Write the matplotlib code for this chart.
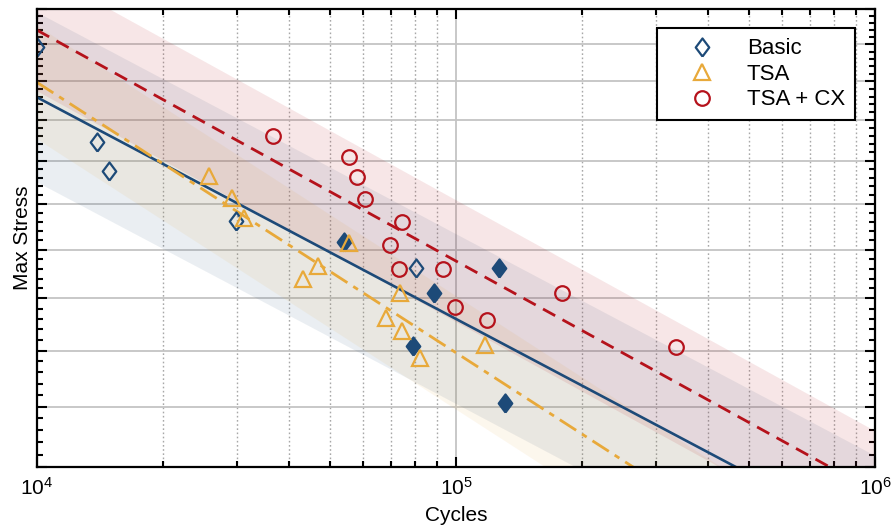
import numpy as np
import matplotlib
matplotlib.use("Agg")
import matplotlib.pyplot as plt
from matplotlib.ticker import LogLocator, FixedLocator, NullFormatter, MultipleLocator

plt.rcParams['font.family'] = ['Liberation Sans', 'DejaVu Sans']
plt.rcParams['mathtext.default'] = 'regular'

# Basic specimens (open and filled diamonds)
basic_open_cycles = [10000, 13900, 14850, 29850, 80300]
basic_open_stress = [209.2, 184.5, 177.5, 166.2, 156.2]
basic_fill_cycles = [54000, 88600, 126600, 79000, 130900]
basic_fill_stress = [161.6, 151.1, 156.2, 140.8, 130.6]

# TSA specimens
tsa_cycles = [25730, 29200, 31190, 55540, 46840, 43130, 73500, 68070, 74310, 82070, 117300]
tsa_stress = [176.4, 171.3, 166.8, 161.4, 156.6, 153.9, 151.1, 146.2, 143.7, 138.6, 141.0]

# TSA + CX specimens
cx_cycles = [36580, 55540, 58030, 60640, 74310, 69580, 73110, 93120, 99450, 118600, 179100, 334900]
cx_stress = [186.0, 180.9, 176.1, 171.1, 166.0, 161.0, 156.0, 156.0, 148.3, 145.8, 151.1, 140.7]

# power-law fits S = A * (N / 1e4) ** b, and band factor (multiplicative)
fit_A = {'Basic': 195.8, 'TSA': 199.7, 'TSA + CX': 214.0}
fit_b = {'Basic': -0.1275, 'TSA': -0.1555, 'TSA + CX': -0.1328}
band_factor = {'Basic': 1.119, 'TSA': 1.078, 'TSA + CX': 1.084}

c_blue = '#1d4a78'
c_orange = '#e8a93a'
c_red = '#b5121b'

fig = plt.figure(figsize=(8.93, 5.30), dpi=100)
ax = fig.add_axes([0.0414, 0.1189, 0.9385, 0.8636])
ax.set_xscale('log')
ax.set_yscale('log')
ax.set_xlim(1e4, 1e6)
ax.set_ylim(120, 220)

# confidence bands
n = np.logspace(4, 6, 200)
band_alpha = {'Basic': 0.09, 'TSA': 0.09, 'TSA + CX': 0.1}
colors = {'Basic': c_blue, 'TSA': c_orange, 'TSA + CX': c_red}
for key in ['Basic', 'TSA', 'TSA + CX']:
    s = fit_A[key] * (n / 1e4) ** fit_b[key]
    ax.fill_between(n, s / band_factor[key], s * band_factor[key],
                    color=colors[key], alpha=band_alpha[key], linewidth=0, zorder=1)

# fit lines
ax.plot(n, fit_A['Basic'] * (n / 1e4) ** fit_b['Basic'], color=c_blue, lw=1.9, zorder=3)
ax.plot(n, fit_A['TSA'] * (n / 1e4) ** fit_b['TSA'], color=c_orange, lw=2.0,
        dashes=(7, 2.5, 2, 2.5), zorder=3)
ax.plot(n, fit_A['TSA + CX'] * (n / 1e4) ** fit_b['TSA + CX'], color=c_red, lw=2.0,
        dashes=(5, 3), zorder=3)

# markers
diamond = [(0, -1), (0.75, 0), (0, 1), (-0.75, 0), (0, -1)]
ax.plot(basic_open_cycles, basic_open_stress, linestyle='none', marker=diamond, ms=13,
        mfc='none', mec=c_blue, mew=1.6, label='Basic', zorder=4)
ax.plot(basic_fill_cycles, basic_fill_stress, linestyle='none', marker=diamond, ms=13,
        mfc=c_blue, mec=c_blue, mew=1.6, zorder=4)
ax.plot(tsa_cycles, tsa_stress, linestyle='none', marker='^', ms=12,
        mfc='none', mec=c_orange, mew=1.6, label='TSA', zorder=4)
ax.plot(cx_cycles, cx_stress, linestyle='none', marker='o', ms=10.5,
        mfc='none', mec=c_red, mew=1.6, label='TSA + CX', zorder=4)

# ticks and grid
ax.xaxis.set_major_locator(FixedLocator([1e4, 1e5, 1e6]))
ax.xaxis.set_minor_locator(LogLocator(base=10, subs=np.arange(2, 10)))
ax.xaxis.set_minor_formatter(NullFormatter())
ax.yaxis.set_major_locator(MultipleLocator(10))
ax.yaxis.set_minor_locator(MultipleLocator(2))
ax.yaxis.set_major_formatter(NullFormatter())
ax.yaxis.set_minor_formatter(NullFormatter())
ax.set_xticklabels([r'$10^{4}$', r'$10^{5}$', r'$10^{6}$'])

ax.tick_params(which='both', direction='in', top=True, right=True, width=1.5, labelsize=15)
ax.tick_params(which='major', length=7)
ax.tick_params(which='minor', length=4)
ax.tick_params(axis='x', pad=7)

ax.grid(True, which='major', axis='both', color='#c4c4c4', lw=1.3, zorder=0)
ax.grid(True, which='minor', axis='x', color='#a8a8a8', lw=1.0, linestyle=(0, (1.2, 1.8)), zorder=0)
ax.set_axisbelow(True)

for sp in ax.spines.values():
    sp.set_linewidth(1.6)
    sp.set_zorder(6)

ax.set_xlabel('Cycles', fontsize=15, labelpad=5)
ax.set_ylabel('Max Stress', fontsize=15, labelpad=0)

leg = ax.legend(loc='upper right', bbox_to_anchor=(0.976, 0.958), borderaxespad=0,
                fontsize=16, frameon=True, fancybox=False, edgecolor='black',
                handlelength=3.15, handletextpad=0.45, labelspacing=0.2, borderpad=0.45)
leg.get_frame().set_linewidth(1.5)
leg.get_frame().set_alpha(1)
leg.set_zorder(7)

fig.savefig('out.png', dpi=100)
